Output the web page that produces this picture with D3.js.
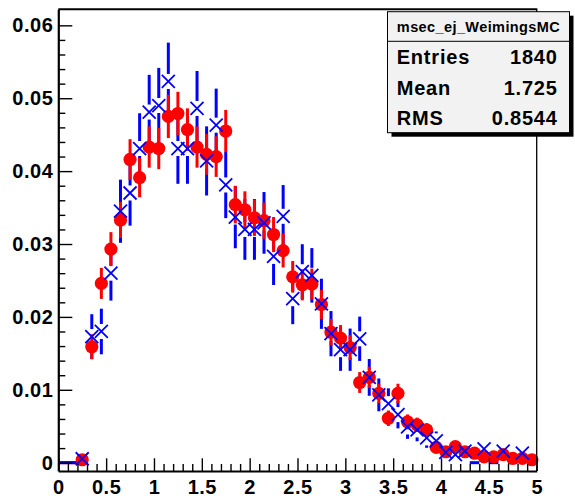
<!DOCTYPE html>
<html><head><meta charset="utf-8">
<script src="https://cdn.jsdelivr.net/npm/d3@7"></script>
<style>
body{margin:0;background:#fff}
text{font-family:"Liberation Sans",Arial,Helvetica,sans-serif;font-weight:bold;fill:#000}
</style>
</head><body><svg id="c" width="575" height="498"></svg>
<script>
// ---- data ----
const binCenters = [0.05,0.15,0.25,0.35,0.45,0.55,0.65,0.75,0.85,0.95,
  1.05,1.15,1.25,1.35,1.45,1.55,1.65,1.75,1.85,1.95,
  2.05,2.15,2.25,2.35,2.45,2.55,2.65,2.75,2.85,2.95,
  3.05,3.15,3.25,3.35,3.45,3.55,3.65,3.75,3.85,3.95,
  4.05,4.15,4.25,4.35,4.45,4.55,4.65,4.75,4.85,4.95];
const binWidth = 0.1;

// blue crosses (MC, msec_ej_WeimingsMC)
const mcValues = [0,0,0.00054,0.0173,0.0180,0.0260,0.0345,0.0370,0.0431,0.0481,
  0.0490,0.0523,0.0431,0.0431,0.0486,0.0414,0.0463,0.0381,0.0337,0.0320,
  0.0320,0.0329,0.0283,0.0338,0.0225,0.0262,0.0257,0.0218,0.0177,0.0155,
  0.0155,0.0170,0.0117,0.0093,0.0081,0.0066,0.0049,0.0045,0.0034,0.0030,
  0.0014,0.0011,0.0016,0,0.0019,0,0.0016,0,0.0013,0];
const mcErrors = [0,0,0.00054,0.00307,0.00313,0.00376,0.00433,0.00448,0.00484,0.00511,
  0.00516,0.00533,0.00484,0.00484,0.00514,0.00474,0.00502,0.00455,0.00428,0.00417,
  0.00417,0.00423,0.00392,0.00429,0.00350,0.00377,0.00374,0.00344,0.00310,0.00290,
  0.00290,0.00304,0.00252,0.00225,0.00210,0.00189,0.00163,0.00156,0.00136,0.00128,
  0.00087,0.00077,0.00093,0,0.00102,0,0.00093,0,0.00084,0];

// red circles
const dataValues = [0,0,0.0004,0.0159,0.0246,0.0293,0.0333,0.0416,0.0391,0.0433,
  0.0431,0.0475,0.0479,0.0457,0.0433,0.0423,0.0420,0.0455,0.0354,0.0347,
  0.0336,0.0332,0.0313,0.0291,0.0255,0.0244,0.0245,0.0217,0.0179,0.0171,
  0.0158,0.0110,0.0117,0.0095,0.0061,0.0095,0.0056,0.0052,0.0045,0.0021,
  0.0015,0.0022,0.0015,0.0013,0.0008,0.0008,0.0011,0.0006,0.0006,0.0004];
const dataErrors = [0,0,0.00027,0.00172,0.00213,0.00233,0.00248,0.00278,0.00269,0.00283,
  0.00283,0.00297,0.00298,0.00291,0.00283,0.00280,0.00279,0.00290,0.00256,0.00253,
  0.00249,0.00248,0.00241,0.00232,0.00217,0.00213,0.00213,0.00200,0.00182,0.00178,
  0.00171,0.00143,0.00147,0.00133,0.00106,0.00133,0.00102,0.00098,0.00091,0.00062,
  0.00053,0.00064,0.00053,0.00049,0.00038,0.00038,0.00045,0.00033,0.00033,0.00027];

const xTickValues = [0,0.5,1,1.5,2,2.5,3,3.5,4,4.5,5];
const xTickLabels = ["0","0.5","1","1.5","2","2.5","3","3.5","4","4.5","5"];
const yTickValues = [0,0.01,0.02,0.03,0.04,0.05,0.06];
const yTickLabels = ["0","0.01","0.02","0.03","0.04","0.05","0.06"];

const statsTitle = "msec_ej_WeimingsMC";
const statsNames = ["Entries","Mean","RMS"];
const statsValues = ["1840","1.725","0.8544"];

// ---- drawing ----
const svg = d3.select("#c");
svg.append("rect").attr("width",575).attr("height",498).attr("fill","#fff");

const x = d3.scaleLinear().domain([0,5]).range([58.3,536.7]);
const y = d3.scaleLinear().domain([-0.00114,0.0622]).range([471,9.3]);

const BLUE = "#0000ff", RED = "#ff0000";
const g = svg.append("g");

const mc = binCenters.map((c,i)=>({c, v:mcValues[i], e:mcErrors[i]}));
const dt = binCenters.map((c,i)=>({c, v:dataValues[i], e:dataErrors[i]}));

// red zero-bin lines (below everything)
g.selectAll(".rz").data(dt.filter(d=>d.v===0)).join("line")
  .attr("x1",d=>x(d.c-binWidth/2)).attr("x2",d=>x(d.c+binWidth/2))
  .attr("y1",d=>y(0)).attr("y2",d=>y(0))
  .attr("stroke",RED).attr("stroke-width",3);

// blue error bars (split around marker) + zero-bin lines
const gap = 7.5;
const blueSegs = [];
mc.forEach(d=>{
  if (d.v===0) { blueSegs.push({x1:x(d.c-binWidth/2),x2:x(d.c+binWidth/2),y1:y(0),y2:y(0)}); return; }
  const yc = y(d.v), ylo = y(d.v-d.e), yhi = y(d.v+d.e);
  if (ylo > yc+gap) blueSegs.push({x1:x(d.c),x2:x(d.c),y1:yc+gap,y2:ylo});
  if (yhi < yc-gap) blueSegs.push({x1:x(d.c),x2:x(d.c),y1:yhi,y2:yc-gap});
});
g.selectAll(".bs").data(blueSegs).join("line")
  .attr("x1",d=>d.x1).attr("x2",d=>d.x2).attr("y1",d=>d.y1).attr("y2",d=>d.y2)
  .attr("stroke",BLUE).attr("stroke-width",3);

// red error bars
g.selectAll(".re").data(dt.filter(d=>d.v>0)).join("line")
  .attr("x1",d=>x(d.c)).attr("x2",d=>x(d.c))
  .attr("y1",d=>y(d.v-d.e)).attr("y2",d=>y(d.v+d.e))
  .attr("stroke",RED).attr("stroke-width",3);

// red circles
g.selectAll(".rc").data(dt.filter(d=>d.v>0)).join("circle")
  .attr("cx",d=>x(d.c)).attr("cy",d=>y(d.v)).attr("r",6.6)
  .attr("fill",RED);

// blue crosses
const s = 6.5;
g.selectAll(".bx").data(mc.filter(d=>d.v>0)).join("path")
  .attr("d",d=>{const cx=x(d.c), cy=y(d.v);
    return `M${cx-s},${cy-s}L${cx+s},${cy+s}M${cx-s},${cy+s}L${cx+s},${cy-s}`;})
  .attr("stroke",BLUE).attr("stroke-width",1.8).attr("fill","none");

// ---- axes ----
const yMinor = d3.range(0.002,0.061,0.002).filter(v=>Math.abs(v/0.01-Math.round(v/0.01))>1e-6);
const xMinor = d3.range(0.1,5,0.1).filter(v=>Math.abs(v/0.5-Math.round(v/0.5))>1e-6);

const yAx = svg.append("g").attr("transform",`translate(${x(0)},0)`)
  .call(d3.axisLeft(y).tickValues(yTickValues).tickFormat((d,i)=>yTickLabels[i])
    .tickSizeInner(-14).tickSizeOuter(0).tickPadding(5));
svg.append("g").attr("transform",`translate(${x(0)},0)`)
  .call(d3.axisLeft(y).tickValues(yMinor).tickFormat("").tickSizeInner(-7).tickSizeOuter(0))
  .select(".domain").remove();

const xAx = svg.append("g").attr("transform",`translate(0,${y.range()[0]})`)
  .call(d3.axisBottom(x).tickValues(xTickValues).tickFormat((d,i)=>xTickLabels[i])
    .tickSizeInner(-12.7).tickSizeOuter(0).tickPadding(9));
svg.append("g").attr("transform",`translate(0,${y.range()[0]})`)
  .call(d3.axisBottom(x).tickValues(xMinor).tickFormat("").tickSizeInner(-7).tickSizeOuter(0))
  .select(".domain").remove();

svg.selectAll(".tick line").attr("stroke","#000").attr("stroke-width",1.4);
svg.selectAll(".domain").attr("stroke","#000").attr("stroke-width",2.2);
svg.selectAll(".tick text").attr("font-size",20).attr("letter-spacing",0.5)
  .attr("font-family",'"Liberation Sans",Arial,sans-serif').attr("font-weight","bold").attr("fill","#000");

// frame top and right
svg.append("line").attr("x1",x(0)).attr("x2",x(5)+0.6).attr("y1",y.range()[1]).attr("y2",y.range()[1])
  .attr("stroke","#000").attr("stroke-width",2);
svg.append("line").attr("x1",x(5)).attr("x2",x(5)).attr("y1",y.range()[1]).attr("y2",y.range()[0])
  .attr("stroke","#000").attr("stroke-width",1.3);

// ---- stats box ----
const bx=387.5, by=11.7, bw=182, bh=121;
svg.append("rect").attr("x",bx+4).attr("y",by+4).attr("width",bw).attr("height",bh).attr("fill","#000");
svg.append("rect").attr("x",bx).attr("y",by).attr("width",bw).attr("height",bh)
  .attr("fill","#f2f2f2").attr("stroke","#000").attr("stroke-width",1);
svg.append("line").attr("x1",bx).attr("x2",bx+bw).attr("y1",41.3).attr("y2",41.3)
  .attr("stroke","#000").attr("stroke-width",1);
svg.append("text").attr("x",bx+bw/2).attr("y",32).attr("text-anchor","middle")
  .attr("font-size",14.5).attr("letter-spacing",0.4).text(statsTitle);
const rowY = [64.3,95,125];
statsNames.forEach((n,i)=>{
  svg.append("text").attr("x",396.7).attr("y",rowY[i]).attr("font-size",20)
    .attr("letter-spacing",0.8).text(n);
  svg.append("text").attr("x",557.7).attr("y",rowY[i]).attr("font-size",20)
    .attr("letter-spacing",0.8).attr("text-anchor","end").text(statsValues[i]);
});
</script>
</body></html>
